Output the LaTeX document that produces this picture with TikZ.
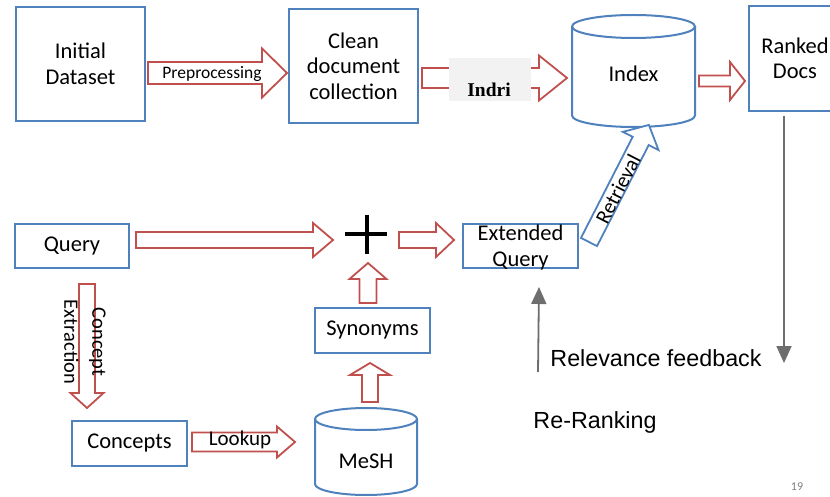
\documentclass[tikz,border=0pt]{standalone}
\usepackage{fontspec}
\setmainfont{Carlito}
\newfontfamily\arialf{Liberation Sans}
\newfontfamily\serff{Liberation Serif}
\usetikzlibrary{arrows.meta}
\definecolor{redA}{HTML}{C0504D}
\definecolor{blueB}{HTML}{4F81BD}
\definecolor{greyC}{HTML}{6E6E6E}
\definecolor{boxgrey}{HTML}{F2F2F2}
% x, y, angle, length, half body, half head, head length, style
\newcommand{\blockarrow}[8]{%
  \begin{scope}[shift={(#1,#2)},rotate=#3]
    \draw[#8] (0,#5) -- ({#4-#7},#5) -- ({#4-#7},#6) -- (#4,0) -- ({#4-#7},-#6) -- ({#4-#7},-#5) -- (0,-#5) -- cycle;
  \end{scope}}
\begin{document}
\begin{tikzpicture}[x=1pt,y=-1pt,
  boxfont/.style={font=\fontsize{22.5}{25.5}\selectfont},
  box/.style={draw=blueB, line width=2pt, inner sep=0pt, align=center, boxfont},
  cyl/.style={draw=blueB, line width=2pt},
  redarr/.style={draw=redA, line width=1.8pt, fill=white},
  bluearr/.style={draw=blueB, line width=1.8pt, fill=white},
  greyarr/.style={draw=greyC, line width=1.8pt, -{Triangle[width=15pt,length=17pt]}},
  bigtext/.style={font=\arialf\fontsize{23.3}{28}\selectfont}]
\fill[white] (0,0) rectangle (830,497);
\useasboundingbox (0,0) rectangle (830,497);

% boxes
\node[box, minimum width=129pt, minimum height=114pt] (init) at (80.5,64) {Initial\\Dataset};
\node[box, minimum width=129pt, minimum height=114pt] (clean) at (353.5,66) {Clean\\document\\collection};
\node[box, minimum width=92pt, minimum height=105pt] (ranked) at (795,58.5) {Ranked\\Docs};
\node[box, minimum width=114pt, minimum height=44pt] (query) at (72,246) {Query};
\node[box, minimum width=115pt, minimum height=44pt] (ext) at (520.5,246) {};
\node[boxfont, align=center, inner sep=0pt] (extlabel) at (520.5,247.5) {Extended\\Query};
\node[box, minimum width=115pt, minimum height=45pt] (syn) at (372.5,330.5) {Synonyms};
\node[box, minimum width=115pt, minimum height=45pt] (conc) at (129.5,443.5) {Concepts};

% cylinders
\draw[cyl, fill=white] (572,26.5) -- (572,115.5) arc[start angle=180, end angle=360, x radius=61.5pt, y radius=11.5pt] -- (695,26.5);
\draw[cyl] (633.5,26.5) ellipse [x radius=61.5pt, y radius=11.5pt];
\node[boxfont] (index) at (633.5,73.5) {Index};
\draw[cyl, fill=white] (315,419) -- (315,484) arc[start angle=180, end angle=360, x radius=51pt, y radius=11pt] -- (417,419);
\draw[cyl] (366,419) ellipse [x radius=51pt, y radius=11pt];
\node[boxfont] (mesh) at (366,461.5) {MeSH};

% block arrows
\blockarrow{148}{73}{0}{139}{11}{24.5}{25}{redarr}
\node[font=\fontsize{17.5}{20}\selectfont] (pre) at (212,74) {Preprocessing};
\blockarrow{422}{78}{0}{145}{10}{22.5}{28}{redarr}
\fill[boxgrey] (449,58) rectangle (531,101);
\node[font=\serff\bfseries\fontsize{19.5}{22}\selectfont] (indri) at (489,90) {Indri};
\blockarrow{699}{81}{0}{46}{5.5}{19}{15}{redarr}
\blockarrow{136}{240}{0}{197}{8}{17}{20}{redarr}
\blockarrow{399}{240}{0}{55}{8}{17}{18}{redarr}
\blockarrow{589}{242}{62.9}{131.5}{9}{20}{18}{bluearr}
\node[rotate=62.9, font=\fontsize{21}{24}\selectfont] (ret) at (618,189) {Retrieval};
\blockarrow{87}{284}{-90}{124}{8}{16.5}{15}{redarr}
\node[rotate=-90, align=center, font=\fontsize{20.5}{28}\selectfont] (ce) at (85,342) {Concept\\Extraction};
\blockarrow{192}{442}{0}{103}{9.5}{15.5}{18}{redarr}
\node[font=\fontsize{21}{24}\selectfont] (look) at (240,440) {Lookup};
\blockarrow{370}{402}{90}{39}{8}{20}{12}{redarr}
\blockarrow{368}{303}{90}{40}{8.5}{18.5}{16}{redarr}

% plus sign
\coordinate (plus) at (367,234);
\draw[line width=3.5pt] (345,234) -- (387,234) (367,215) -- (367,254);

% grey arrows
\coordinate (rrA) at (538,372); \coordinate (rrB) at (539,287);
\draw[greyarr] (rrA) -- (rrB);
\coordinate (rfA) at (784,116); \coordinate (rfB) at (784,363);
\draw[greyarr] (rfA) -- (rfB);

% texts
\node[bigtext] (rf) at (656,358) {Relevance feedback};
\node[bigtext] (rr) at (595,422) {Re-Ranking};
\node[font=\fontsize{12}{14}\selectfont, text=gray] (pg) at (797,487) {19};
\end{tikzpicture}
\end{document}
